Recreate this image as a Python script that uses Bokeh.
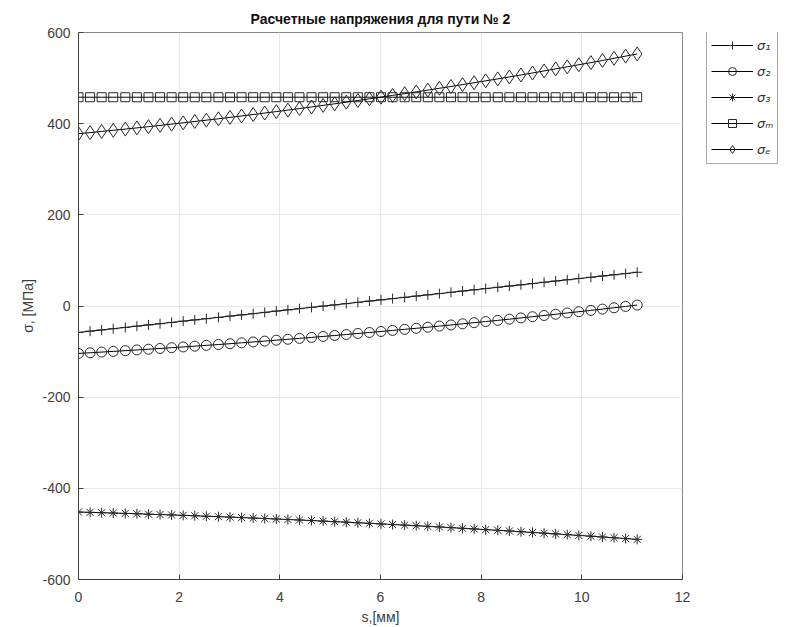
from bokeh.plotting import figure
from bokeh.models import Legend, LegendItem, Range1d, FixedTicker
from bokeh.layouts import row
from bokeh.embed import file_html
from bokeh.resources import INLINE

title_text = "Расчетные напряжения для пути № 2"
x_label = "s,[мм]"
y_label = "σ, [МПа]"
x_ticks = [0, 2, 4, 6, 8, 10, 12]
y_ticks = [-600, -400, -200, 0, 200, 400, 600]

s = [0.00, 0.23, 0.46, 0.69, 0.93, 1.16, 1.39, 1.62, 1.85, 2.08,
     2.31, 2.54, 2.78, 3.01, 3.24, 3.47, 3.70, 3.93, 4.16, 4.39,
     4.63, 4.86, 5.09, 5.32, 5.55, 5.78, 6.01, 6.24, 6.48, 6.71,
     6.94, 7.17, 7.40, 7.63, 7.86, 8.09, 8.33, 8.56, 8.79, 9.02,
     9.25, 9.48, 9.71, 9.94, 10.18, 10.41, 10.64, 10.87, 11.10]

sigma_1 = [-58.0, -55.2, -52.5, -49.8, -47.0, -44.2, -41.5, -38.8, -36.0, -33.2,
           -30.5, -27.8, -25.0, -22.2, -19.5, -16.8, -14.0, -11.2, -8.5, -5.8,
           -3.0, -0.2, 2.5, 5.2, 8.0, 10.8, 13.5, 16.2, 19.0, 21.8,
           24.5, 27.2, 30.0, 32.8, 35.5, 38.2, 41.0, 43.8, 46.5, 49.2,
           52.0, 54.8, 57.5, 60.2, 63.0, 65.8, 68.5, 71.2, 74.0]

sigma_2 = [-104.0, -102.6, -101.1, -99.6, -98.0, -96.4, -94.8, -93.2, -91.5, -89.8,
           -88.1, -86.3, -84.5, -82.7, -80.8, -78.9, -77.0, -75.0, -73.0, -71.0,
           -68.9, -66.8, -64.7, -62.5, -60.3, -58.1, -55.9, -53.6, -51.2, -48.9,
           -46.5, -44.1, -41.6, -39.1, -36.6, -34.1, -31.5, -28.9, -26.2, -23.5,
           -20.8, -18.1, -15.3, -12.5, -9.6, -6.8, -3.9, -0.9, 2.1]

sigma_3 = [-452.0, -452.7, -453.5, -454.2, -455.0, -455.8, -456.7, -457.5, -458.4, -459.3,
           -460.2, -461.2, -462.1, -463.1, -464.1, -465.2, -466.2, -467.3, -468.4, -469.5,
           -470.7, -471.9, -473.1, -474.3, -475.5, -476.8, -478.1, -479.4, -480.7, -482.0,
           -483.4, -484.8, -486.2, -487.7, -489.1, -490.6, -492.1, -493.6, -495.2, -496.8,
           -498.4, -500.0, -501.6, -503.3, -505.0, -506.7, -508.4, -510.2, -512.0]

sigma_m = [458.0] * 49

sigma_e = [378.0, 380.4, 382.9, 385.5, 388.1, 390.7, 393.4, 396.2, 399.0, 401.9,
           404.8, 407.7, 410.7, 413.8, 416.9, 420.1, 423.3, 426.5, 429.8, 433.2,
           436.6, 440.1, 443.6, 447.2, 450.8, 454.5, 458.2, 462.0, 465.8, 469.7,
           473.6, 477.6, 481.6, 485.7, 489.8, 494.0, 498.2, 502.5, 506.8, 511.2,
           515.7, 520.2, 524.7, 529.3, 533.9, 538.6, 543.4, 548.2, 553.0]

series_names = ["σ₁", "σ₂", "σ₃", "σₘ", "σₑ"]
series_values = [sigma_1, sigma_2, sigma_3, sigma_m, sigma_e]
series_markers = ["cross", "circle", "asterisk", "square", "diamond"]
marker_sizes = [10, 10, 10, 9, 14]

FONT = "Liberation Sans"
AX = "#404040"
MK = "#2a2a2a"

# ---------------- main plot ----------------
p = figure(width=700, height=627, output_backend="svg", toolbar_location=None,
           x_range=Range1d(0, 12), y_range=Range1d(-600, 600),
           min_border_left=78, min_border_right=18, min_border_top=32, min_border_bottom=48,
           background_fill_color="white", border_fill_color="white")

p.title.text = title_text
p.title.align = "center"
p.title.text_font = FONT
p.title.text_font_size = "14px"
p.title.text_font_style = "bold"
p.title.text_color = "#111111"
p.title.standoff = 11
p.title.offset = 0

p.outline_line_color = "#8a8a8a"
p.outline_line_width = 1

for ax in (p.xaxis[0], p.yaxis[0]):
    ax.major_label_text_font = FONT
    ax.major_label_text_font_size = "14px"
    ax.major_label_text_color = AX
    ax.axis_line_color = AX
    ax.major_tick_line_color = AX
    ax.major_tick_in = 5
    ax.major_tick_out = 0
    ax.minor_tick_line_color = None
    ax.axis_label_text_font = FONT
    ax.axis_label_text_font_size = "14px"
    ax.axis_label_text_font_style = "normal"
    ax.axis_label_text_color = AX

p.xaxis.ticker = FixedTicker(ticks=x_ticks)
p.yaxis.ticker = FixedTicker(ticks=y_ticks)
p.xaxis.major_label_overrides = {t: str(t) for t in x_ticks}
p.yaxis.major_label_overrides = {t: str(t) for t in y_ticks}
p.xaxis.axis_label = x_label
p.yaxis.axis_label = y_label
p.xaxis.major_label_standoff = 12
p.yaxis.major_label_standoff = 8
p.xaxis.axis_label_standoff = 4
p.yaxis.axis_label_standoff = 3

p.xgrid.ticker = FixedTicker(ticks=x_ticks)
p.ygrid.ticker = FixedTicker(ticks=y_ticks)
p.grid.grid_line_color = "#e8e8e8"
p.grid.grid_line_width = 1

for vals, mk, ms in zip(series_values, series_markers, marker_sizes):
    p.line(s, vals, line_color="black", line_width=1)
    p.scatter(s, vals, marker=mk, size=ms, line_color=MK, fill_color=None, line_width=1)

# ---------------- legend panel ----------------
pl = figure(width=88, height=627, output_backend="svg", toolbar_location=None,
            x_range=Range1d(1000, 1001), y_range=Range1d(1000, 1001),
            min_border_left=0, min_border_right=0, min_border_top=0, min_border_bottom=0,
            background_fill_color="white", border_fill_color="white")
pl.axis.visible = False
pl.grid.visible = False
pl.outline_line_color = None

items = []
for name, vals, mk, ms in zip(series_names, series_values, series_markers, marker_sizes):
    ln = pl.line(s, vals, line_color="black", line_width=1)
    sc = pl.scatter(s, vals, marker=mk, size=ms, line_color=MK, fill_color=None, line_width=1)
    items.append(LegendItem(label=name, renderers=[ln, sc]))

legend = Legend(items=items, location=(6, 415))
legend.border_line_color = "#555555"
legend.border_line_width = 1
legend.background_fill_color = "white"
legend.background_fill_alpha = 1
legend.label_text_font = "DejaVu Sans"
legend.label_text_font_size = "13px"
legend.label_text_font_style = "italic"
legend.label_text_color = "#333333"
legend.glyph_width = 42
legend.glyph_height = 20
legend.label_standoff = 4
legend.label_height = 20
legend.label_width = 14
legend.padding = 4
legend.spacing = 6
legend.margin = 0
pl.add_layout(legend, "center")

layout = row(p, pl, spacing=0)
open("out.html", "w").write(file_html(layout, INLINE))
